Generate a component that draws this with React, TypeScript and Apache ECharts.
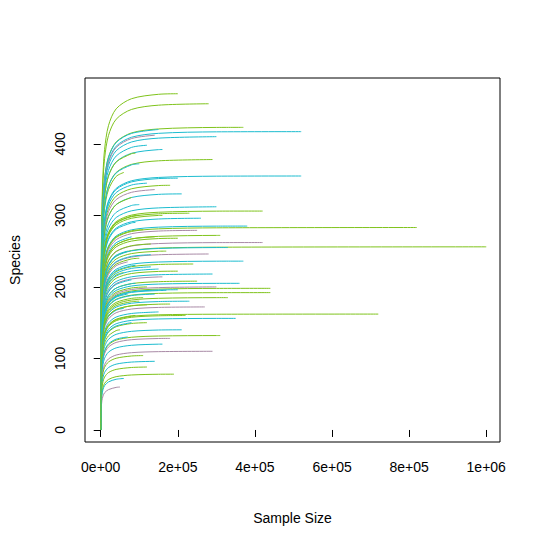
import React, { useEffect, useRef } from "react";
import * as echarts from "echarts";

const colors = ["#7FC31C", "#1CBCCF", "#A98AA6"];
// shared rarefaction shape: sample size -> fraction of final species
const shapeX = [0, 1000, 3000, 6000, 10000, 20000, 40000, 80000, 150000, 300000, 1000000];
const shapeY = [0, 0.45, 0.65, 0.76, 0.83, 0.9, 0.95, 0.98, 0.993, 0.998, 1];
// curves: [end sample size, end species, colour index]
const curves: [number, number, number][] = [
  [200000, 470, 0], [280000, 456, 0], [370000, 423, 0], [520000, 417, 1], [150000, 420, 1],
  [140000, 412, 2], [300000, 410, 1], [120000, 398, 1], [160000, 392, 1], [90000, 387, 0],
  [290000, 378, 0], [520000, 355, 1], [200000, 352, 1], [180000, 342, 0], [140000, 336, 2],
  [210000, 330, 1], [420000, 306, 0], [300000, 312, 1], [230000, 303, 0], [260000, 296, 1],
  [820000, 283, 0], [380000, 285, 1], [250000, 279, 2], [310000, 272, 0], [200000, 268, 0],
  [1000000, 256, 0], [420000, 262, 2], [330000, 255, 1], [170000, 250, 0], [280000, 246, 2],
  [370000, 236, 1], [240000, 232, 0], [130000, 228, 1], [200000, 222, 0], [290000, 218, 1],
  [160000, 214, 2], [440000, 198, 0], [440000, 192, 0], [360000, 205, 1], [250000, 208, 0],
  [300000, 200, 2], [200000, 196, 1], [140000, 190, 1], [330000, 185, 0], [230000, 180, 1],
  [180000, 176, 0], [270000, 172, 2], [720000, 162, 0], [350000, 156, 1], [220000, 160, 0],
  [150000, 165, 1], [120000, 150, 0], [310000, 132, 0], [210000, 140, 1], [180000, 128, 2],
  [160000, 120, 1], [290000, 110, 2], [110000, 104, 0], [140000, 96, 1], [120000, 88, 0],
  [190000, 78, 0], [60000, 72, 1], [50000, 60, 2], [100000, 300, 0], [90000, 290, 1],
  [110000, 280, 0], [80000, 270, 1], [130000, 260, 0], [70000, 250, 1], [100000, 240, 0],
  [90000, 230, 1], [60000, 220, 0], [80000, 210, 1], [120000, 200, 0], [70000, 190, 1],
  [100000, 180, 0], [60000, 170, 1], [90000, 160, 0], [80000, 150, 1], [50000, 140, 0],
  [70000, 130, 1], [100000, 315, 1], [80000, 325, 0], [120000, 345, 1], [60000, 360, 0],
  [100000, 372, 1], [70000, 235, 2], [130000, 245, 1], [110000, 185, 0], [90000, 205, 1],
  [140000, 270, 0], [160000, 300, 0], [150000, 225, 1], [170000, 195, 1], [120000, 175, 0],
];
const xTicks = ["0e+00", "2e+05", "4e+05", "6e+05", "8e+05", "1e+06"];

function frac(x: number) {
  for (let i = 1; i < shapeX.length; i++) {
    if (x <= shapeX[i]) {
      const t = (x - shapeX[i - 1]) / (shapeX[i] - shapeX[i - 1]);
      return shapeY[i - 1] + t * (shapeY[i] - shapeY[i - 1]);
    }
  }
  return 1;
}

export default function App() {
  const ref = useRef<HTMLDivElement>(null);
  useEffect(() => {
    const chart = echarts.init(ref.current!, null, { renderer: "svg" });
    const font = "Liberation Sans, Arial, sans-serif";
    const series = curves.map(([end, sp, c]) => {
      const fe = frac(end);
      const pts = shapeX.filter((x) => x < end).map((x) => [x, (sp * frac(x)) / fe]);
      pts.push([end, sp]);
      return {
        type: "line", data: pts, showSymbol: false, symbol: "none", smooth: 0.3,
        lineStyle: { color: colors[c], width: 1 }, silent: true,
      };
    });
    chart.setOption({
      animation: false,
      grid: { left: 78, right: 41, top: 78, bottom: 99, show: true, borderColor: "#000", borderWidth: 1 },
      xAxis: {
        type: "value", min: -40800, max: 1035700, interval: 200000,
        name: "Sample Size", nameLocation: "middle", nameGap: 69,
        nameTextStyle: { fontFamily: font, fontSize: 14, color: "#000" },
        axisLine: { show: false }, splitLine: { show: false },
        axisTick: { show: true, length: 7, lineStyle: { color: "#000" }, customValues: [0, 200000, 400000, 600000, 800000, 1000000] },
        axisLabel: { fontFamily: font, fontSize: 14, color: "#000", margin: 18,
          customValues: [0, 200000, 400000, 600000, 800000, 1000000],
          formatter: (v: number) => xTicks[Math.round(v / 200000)] ?? "" },
      },
      yAxis: {
        type: "value", min: -16.8, max: 492,
        name: "Species", nameLocation: "middle", nameGap: 63,
        nameTextStyle: { fontFamily: font, fontSize: 14, color: "#000" },
        axisLine: { show: false }, splitLine: { show: false },
        axisTick: { show: true, length: 7, lineStyle: { color: "#000" }, customValues: [0, 100, 200, 300, 400] },
        axisLabel: { fontFamily: font, fontSize: 14, color: "#000", rotate: 90, margin: 18,
          customValues: [0, 100, 200, 300, 400], formatter: (v: number) => String(Math.round(v)) },
      },
      series,
    });
    return () => chart.dispose();
  }, []);
  return <div ref={ref} style={{ position: "absolute", left: 0, top: 0, width: 541, height: 541 }} />;
}
